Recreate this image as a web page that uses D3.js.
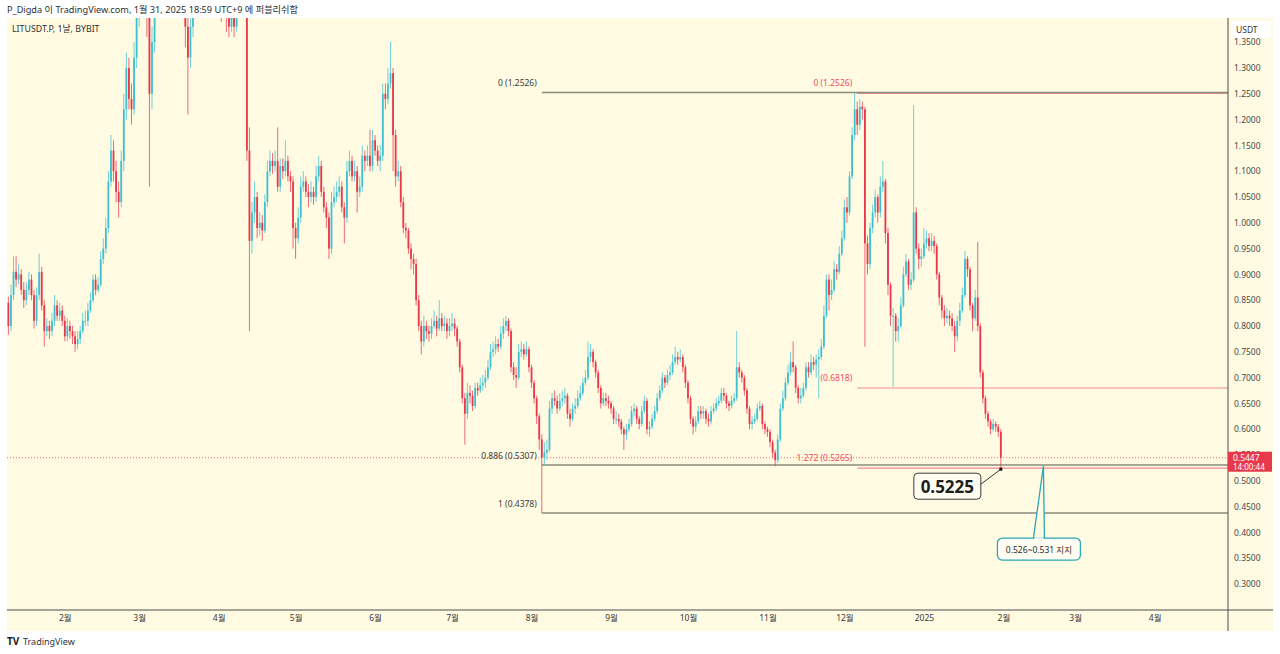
<!DOCTYPE html>
<html>
<head>
<meta charset="utf-8">
<script src="https://cdn.jsdelivr.net/npm/d3@7"></script>
<style>
  body { margin: 0; background: #ffffff; }
  text { font-family: "Noto Sans", "Noto Sans CJK KR", sans-serif; }
</style>
</head>
<body>
<div id="chart"></div>
<script>
// daily candles, LITUSDT.P (BYBIT), from 2024-01-10 to 2025-01-31
const firstDay = "2024-01-10";
const firstOpen = 0.845;
const closes = [
  0.80, 0.86, 0.905, 0.89, 0.90, 0.87, 0.85, 0.87, 0.89, 0.86,
  0.81, 0.86, 0.905, 0.84, 0.79, 0.80, 0.79, 0.81, 0.84, 0.82,
  0.83, 0.81, 0.78, 0.80, 0.79, 0.78, 0.765, 0.775, 0.79, 0.81,
  0.81, 0.83, 0.85, 0.89, 0.87, 0.88, 0.93, 0.95, 0.99, 1.08,
  1.14, 1.10, 1.06, 1.04, 1.12, 1.22, 1.30, 1.24, 1.22, 1.32,
  1.40, 1.48, 1.55, 1.50, 1.42, 1.25, 1.35, 1.45, 1.55, 1.62,
  1.70, 1.78, 1.85, 1.80, 1.72, 1.65, 1.58, 1.50, 1.45, 1.38,
  1.32, 1.38, 1.45, 1.55, 1.62, 1.60, 1.55, 1.58, 1.52, 1.48,
  1.50, 1.46, 1.44, 1.42, 1.45, 1.40, 1.38, 1.40, 1.38, 1.42,
  1.45, 1.48, 1.46, 1.14, 0.965, 1.02, 1.05, 0.99, 1.00, 0.985,
  1.04, 1.10, 1.12, 1.11, 1.12, 1.07, 1.11, 1.10, 1.12, 1.09,
  1.08, 0.99, 0.97, 1.01, 1.07, 1.08, 1.06, 1.05, 1.06, 1.05,
  1.09, 1.11, 1.06, 1.03, 1.01, 0.95, 1.04, 1.05, 1.06, 1.07,
  1.03, 1.01, 1.10, 1.12, 1.09, 1.10, 1.06, 1.07, 1.13, 1.12,
  1.13, 1.11, 1.16, 1.14, 1.12, 1.13, 1.25, 1.24, 1.27, 1.29,
  1.17, 1.09, 1.10, 1.04, 0.99, 0.985, 0.95, 0.93, 0.92, 0.85,
  0.80, 0.77, 0.80, 0.79, 0.785, 0.80, 0.81, 0.795, 0.815, 0.80,
  0.805, 0.79, 0.80, 0.805, 0.795, 0.77, 0.72, 0.66, 0.63, 0.67,
  0.665, 0.645, 0.68, 0.675, 0.685, 0.69, 0.70, 0.72, 0.75, 0.755,
  0.765, 0.76, 0.785, 0.80, 0.81, 0.79, 0.72, 0.705, 0.70, 0.75,
  0.755, 0.745, 0.755, 0.72, 0.69, 0.66, 0.625, 0.58, 0.545, 0.555,
  0.56, 0.64, 0.66, 0.655, 0.64, 0.655, 0.66, 0.665, 0.63, 0.62,
  0.64, 0.645, 0.66, 0.67, 0.69, 0.70, 0.74, 0.75, 0.73, 0.71,
  0.68, 0.65, 0.66, 0.655, 0.65, 0.64, 0.62, 0.62, 0.615, 0.60,
  0.59, 0.60, 0.61, 0.635, 0.64, 0.62, 0.61, 0.635, 0.655, 0.60,
  0.605, 0.62, 0.635, 0.66, 0.675, 0.70, 0.69, 0.705, 0.71, 0.73,
  0.74, 0.735, 0.74, 0.72, 0.69, 0.66, 0.62, 0.605, 0.615, 0.635,
  0.63, 0.635, 0.62, 0.615, 0.635, 0.64, 0.65, 0.655, 0.67, 0.665,
  0.65, 0.645, 0.655, 0.66, 0.72, 0.71, 0.70, 0.675, 0.64, 0.61,
  0.615, 0.62, 0.64, 0.645, 0.61, 0.60, 0.595, 0.575, 0.555, 0.54,
  0.58, 0.64, 0.66, 0.69, 0.71, 0.73, 0.72, 0.68, 0.66, 0.665,
  0.68, 0.72, 0.71, 0.73, 0.725, 0.735, 0.74, 0.76, 0.82, 0.89,
  0.86, 0.87, 0.91, 0.905, 0.94, 0.97, 1.03, 1.02, 1.09, 1.17,
  1.22, 1.19, 1.225, 1.22, 0.96, 0.92, 0.99, 1.02, 1.05, 1.02,
  1.07, 1.08, 0.98, 0.88, 0.82, 0.82, 0.79, 0.80, 0.84, 0.90,
  0.925, 0.88, 0.89, 1.02, 0.95, 0.93, 0.935, 0.96, 0.97, 0.955,
  0.965, 0.955, 0.90, 0.855, 0.83, 0.815, 0.82, 0.815, 0.80, 0.78,
  0.81, 0.83, 0.86, 0.93, 0.91, 0.84, 0.815, 0.855, 0.80, 0.71,
  0.66, 0.63, 0.615, 0.60, 0.61, 0.605, 0.595, 0.5447
];
const highs = [
  0.857, 0.88, 0.935, 0.935, 0.92, 0.91, 0.885, 0.885, 0.905, 0.90,
  0.87, 0.875, 0.94, 0.915, 0.85, 0.815, 0.81, 0.825, 0.86, 0.85,
  0.845, 0.84, 0.82, 0.815, 0.81, 0.80, 0.79, 0.79, 0.80, 0.825,
  0.83, 0.845, 0.865, 0.90, 0.90, 0.895, 0.945, 0.97, 1.01, 1.10,
  1.17, 1.16, 1.12, 1.08, 1.14, 1.25, 1.33, 1.32, 1.27, 1.35,
  1.44, 1.52, 1.60, 1.58, 1.52, 1.44, 1.38, 1.48, 1.58, 1.66,
  1.74, 1.82, 1.92, 1.88, 1.82, 1.75, 1.68, 1.60, 1.53, 1.47,
  1.40, 1.41, 1.48, 1.58, 1.66, 1.65, 1.62, 1.61, 1.60, 1.54,
  1.53, 1.52, 1.48, 1.46, 1.47, 1.46, 1.42, 1.42, 1.41, 1.44,
  1.48, 1.52, 1.50, 1.47, 1.185, 1.04, 1.08, 1.06, 1.02, 1.015,
  1.055, 1.12, 1.14, 1.135, 1.14, 1.185, 1.125, 1.125, 1.16, 1.13,
  1.10, 1.09, 1.00, 1.03, 1.09, 1.10, 1.09, 1.075, 1.08, 1.07,
  1.11, 1.13, 1.12, 1.07, 1.04, 1.02, 1.06, 1.07, 1.08, 1.09,
  1.08, 1.04, 1.12, 1.14, 1.13, 1.12, 1.11, 1.09, 1.15, 1.14,
  1.15, 1.18, 1.18, 1.17, 1.15, 1.15, 1.27, 1.27, 1.30, 1.35,
  1.30, 1.18, 1.12, 1.11, 1.05, 1.00, 0.99, 0.96, 0.94, 0.93,
  0.86, 0.81, 0.82, 0.81, 0.80, 0.815, 0.83, 0.82, 0.85, 0.825,
  0.82, 0.815, 0.815, 0.825, 0.815, 0.80, 0.775, 0.725, 0.67, 0.69,
  0.685, 0.675, 0.69, 0.69, 0.70, 0.705, 0.715, 0.735, 0.765, 0.77,
  0.78, 0.775, 0.80, 0.815, 0.82, 0.815, 0.795, 0.73, 0.72, 0.765,
  0.77, 0.765, 0.77, 0.76, 0.725, 0.695, 0.665, 0.63, 0.59, 0.575,
  0.58, 0.655, 0.67, 0.675, 0.665, 0.67, 0.675, 0.68, 0.67, 0.64,
  0.65, 0.66, 0.675, 0.685, 0.70, 0.715, 0.77, 0.765, 0.755, 0.735,
  0.715, 0.685, 0.67, 0.67, 0.665, 0.655, 0.645, 0.635, 0.63, 0.62,
  0.605, 0.61, 0.62, 0.645, 0.65, 0.645, 0.625, 0.645, 0.665, 0.66,
  0.615, 0.63, 0.645, 0.67, 0.685, 0.71, 0.705, 0.715, 0.725, 0.745,
  0.76, 0.75, 0.755, 0.745, 0.725, 0.695, 0.665, 0.625, 0.625, 0.645,
  0.645, 0.645, 0.64, 0.63, 0.645, 0.65, 0.66, 0.665, 0.68, 0.68,
  0.67, 0.655, 0.665, 0.67, 0.79, 0.73, 0.715, 0.705, 0.68, 0.645,
  0.625, 0.63, 0.65, 0.655, 0.65, 0.615, 0.605, 0.60, 0.58, 0.56,
  0.59, 0.65, 0.675, 0.70, 0.725, 0.75, 0.77, 0.725, 0.685, 0.68,
  0.69, 0.73, 0.73, 0.745, 0.74, 0.745, 0.755, 0.775, 0.84, 0.90,
  0.90, 0.89, 0.925, 0.92, 0.955, 0.985, 1.045, 1.05, 1.10, 1.185,
  1.2526, 1.235, 1.24, 1.235, 1.225, 0.975, 1.00, 1.035, 1.065, 1.055,
  1.09, 1.12, 1.085, 0.99, 0.885, 0.835, 0.825, 0.815, 0.855, 0.915,
  0.94, 0.93, 0.905, 1.228, 1.03, 0.96, 0.95, 0.99, 0.985, 0.98,
  0.98, 0.975, 0.96, 0.905, 0.86, 0.84, 0.835, 0.83, 0.825, 0.81,
  0.82, 0.845, 0.875, 0.945, 0.935, 0.915, 0.845, 0.87, 0.963, 0.805,
  0.715, 0.665, 0.635, 0.62, 0.62, 0.615, 0.61, 0.60
];
const lows = [
  0.783, 0.79, 0.85, 0.875, 0.88, 0.86, 0.835, 0.84, 0.86, 0.85,
  0.795, 0.80, 0.85, 0.83, 0.76, 0.78, 0.775, 0.78, 0.80, 0.81,
  0.81, 0.80, 0.77, 0.77, 0.775, 0.765, 0.75, 0.755, 0.765, 0.785,
  0.80, 0.80, 0.825, 0.845, 0.86, 0.865, 0.875, 0.92, 0.94, 0.98,
  1.07, 1.08, 1.04, 1.01, 1.03, 1.10, 1.20, 1.22, 1.19, 1.21,
  1.30, 1.38, 1.46, 1.45, 1.36, 1.07, 1.22, 1.33, 1.43, 1.52,
  1.60, 1.68, 1.75, 1.76, 1.68, 1.62, 1.55, 1.47, 1.42, 1.34,
  1.21, 1.30, 1.36, 1.43, 1.53, 1.56, 1.52, 1.53, 1.49, 1.45,
  1.46, 1.43, 1.41, 1.39, 1.40, 1.37, 1.36, 1.37, 1.36, 1.37,
  1.41, 1.44, 1.43, 1.12, 0.79, 0.94, 1.00, 0.97, 0.975, 0.965,
  0.98, 1.03, 1.09, 1.095, 1.10, 1.06, 1.06, 1.085, 1.09, 1.08,
  1.06, 0.95, 0.93, 0.96, 1.00, 1.06, 1.05, 1.03, 1.04, 1.035,
  1.04, 1.08, 1.05, 1.02, 0.99, 0.93, 0.94, 1.03, 1.04, 1.05,
  1.02, 0.96, 1.00, 1.09, 1.08, 1.08, 1.02, 1.05, 1.06, 1.10,
  1.11, 1.10, 1.10, 1.13, 1.11, 1.10, 1.12, 1.22, 1.23, 1.26,
  1.10, 1.07, 1.08, 1.03, 0.98, 0.97, 0.94, 0.91, 0.90, 0.84,
  0.79, 0.745, 0.76, 0.775, 0.77, 0.775, 0.795, 0.78, 0.79, 0.79,
  0.79, 0.775, 0.78, 0.79, 0.78, 0.76, 0.71, 0.65, 0.57, 0.62,
  0.65, 0.635, 0.64, 0.665, 0.67, 0.675, 0.68, 0.695, 0.715, 0.74,
  0.745, 0.75, 0.755, 0.775, 0.79, 0.78, 0.71, 0.695, 0.68, 0.695,
  0.74, 0.735, 0.74, 0.71, 0.68, 0.65, 0.61, 0.56, 0.4378, 0.53,
  0.54, 0.555, 0.63, 0.645, 0.63, 0.635, 0.645, 0.65, 0.62, 0.605,
  0.615, 0.63, 0.64, 0.655, 0.665, 0.685, 0.695, 0.73, 0.72, 0.70,
  0.67, 0.64, 0.645, 0.645, 0.64, 0.63, 0.61, 0.61, 0.605, 0.59,
  0.56, 0.58, 0.595, 0.605, 0.625, 0.61, 0.60, 0.605, 0.63, 0.59,
  0.585, 0.60, 0.615, 0.63, 0.655, 0.67, 0.68, 0.685, 0.695, 0.705,
  0.725, 0.725, 0.73, 0.71, 0.68, 0.65, 0.61, 0.59, 0.595, 0.61,
  0.62, 0.62, 0.61, 0.605, 0.61, 0.63, 0.635, 0.645, 0.65, 0.655,
  0.64, 0.635, 0.64, 0.65, 0.655, 0.70, 0.69, 0.665, 0.63, 0.60,
  0.60, 0.61, 0.615, 0.635, 0.60, 0.59, 0.585, 0.565, 0.545, 0.528,
  0.535, 0.575, 0.635, 0.655, 0.685, 0.705, 0.71, 0.67, 0.65, 0.65,
  0.66, 0.675, 0.70, 0.705, 0.715, 0.70, 0.66, 0.735, 0.755, 0.815,
  0.83, 0.85, 0.865, 0.89, 0.90, 0.935, 0.965, 1.00, 1.015, 1.085,
  1.16, 1.17, 1.18, 1.20, 0.76, 0.90, 0.91, 0.98, 1.01, 1.00,
  1.01, 1.06, 0.96, 0.86, 0.80, 0.6818, 0.77, 0.77, 0.795, 0.835,
  0.895, 0.87, 0.87, 0.885, 0.94, 0.91, 0.915, 0.93, 0.95, 0.945,
  0.945, 0.94, 0.89, 0.84, 0.815, 0.80, 0.805, 0.80, 0.79, 0.75,
  0.77, 0.80, 0.825, 0.855, 0.895, 0.83, 0.79, 0.81, 0.79, 0.70,
  0.65, 0.62, 0.605, 0.59, 0.595, 0.595, 0.585, 0.5225
];

const monthTicks = ["2024-02-01", "2024-03-01", "2024-04-01", "2024-05-01", "2024-06-01",
  "2024-07-01", "2024-08-01", "2024-09-01", "2024-10-01", "2024-11-01", "2024-12-01",
  "2025-01-01", "2025-02-01", "2025-03-01", "2025-04-01"];
const monthLabels = ["2월", "3월", "4월", "5월", "6월", "7월", "8월", "9월", "10월", "11월", "12월",
  "2025", "2월", "3월", "4월"];
const priceTicks = [0.30, 0.35, 0.40, 0.45, 0.50, 0.55, 0.60, 0.65, 0.70, 0.75, 0.80, 0.85,
  0.90, 0.95, 1.00, 1.05, 1.10, 1.15, 1.20, 1.25, 1.30, 1.35];

// fib retracement (gray) anchored at the 8월 5일 low
const fibStart = "2024-08-05";
const fibValues = [1.2526, 0.5307, 0.4378];
const fibLabels = ["0 (1.2526)", "0.886 (0.5307)", "1 (0.4378)"];
// trend based extension (red) drawn from the 12월 high
const extStart = "2024-12-06";
const extValues = [1.2526, 0.6818, 0.5265];
const extLabels = ["0 (1.2526)", "(0.6818)", "1.272 (0.5265)"];

const lastPrice = 0.5447;
const countdown = "14:00:44";
const lowNote = { date: "2025-01-31", value: 0.5225, text: "0.5225" };
const zoneNote = { date: "2025-02-17", value: 0.5285, text: "0.526~0.531 지지" };

const W = 1280, H = 654;
const plot = { left: 7, right: 1228, top: 18, bottom: 610 };
const bg = "#fffbe3", upColor = "#3fc0d1", downColor = "#e8394c";

const svg = d3.select("#chart").append("svg")
  .attr("width", W).attr("height", H);

svg.append("rect").attr("x", 7).attr("y", 18).attr("width", 1266).attr("height", 613)
  .attr("fill", bg);

const x = d3.scaleUtc()
  .domain([Date.UTC(2024, 0, 9, 11), Date.UTC(2025, 3, 29, 14)])
  .range([plot.left, plot.right]);
const y = d3.scaleLinear().domain([0.3, 1.3]).range([584, 68]);

const day0 = new Date(firstDay + "T00:00:00Z");
const candles = closes.map((c, i) => {
  const o = i ? closes[i - 1] : firstOpen;
  return {
    date: d3.utcDay.offset(day0, i),
    o: o, c: c,
    h: Math.max(highs[i], o, c),
    l: Math.min(lows[i], o, c)
  };
});

svg.append("clipPath").attr("id", "clip").append("rect")
  .attr("x", plot.left).attr("y", plot.top)
  .attr("width", plot.right - plot.left).attr("height", plot.bottom - plot.top);
const g = svg.append("g").attr("clip-path", "url(#clip)");

// last price dotted line
g.append("line")
  .attr("x1", plot.left).attr("x2", plot.right)
  .attr("y1", y(lastPrice)).attr("y2", y(lastPrice))
  .attr("stroke", "#ef6b78").attr("stroke-width", 1).attr("stroke-dasharray", "1,2");

// red extension lines
extValues.forEach(v => {
  g.append("line")
    .attr("x1", x(new Date(extStart))).attr("x2", plot.right)
    .attr("y1", y(v) + 1).attr("y2", y(v) + 1)
    .attr("stroke", "#f08a94").attr("stroke-width", 1.2);
});
// gray fib lines
fibValues.forEach(v => {
  g.append("line")
    .attr("x1", x(new Date(fibStart))).attr("x2", plot.right)
    .attr("y1", y(v)).attr("y2", y(v))
    .attr("stroke", "#8b8b7c").attr("stroke-width", 1.5);
});

// candles
const cg = g.append("g");
cg.selectAll("line.wick").data(candles).join("line")
  .attr("class", "wick")
  .attr("x1", d => x(d.date)).attr("x2", d => x(d.date))
  .attr("y1", d => y(d.h)).attr("y2", d => y(d.l))
  .attr("stroke", d => d.c >= d.o ? upColor : downColor)
  .attr("stroke-opacity", 0.75)
  .attr("stroke-width", 1);
cg.selectAll("rect.body").data(candles).join("rect")
  .attr("class", "body")
  .attr("x", d => x(d.date) - 0.9).attr("width", 1.8)
  .attr("y", d => y(Math.max(d.o, d.c)))
  .attr("height", d => Math.max(1, Math.abs(y(d.o) - y(d.c))))
  .attr("fill", d => d.c >= d.o ? upColor : downColor);

// fib labels
fibValues.forEach((v, i) => {
  svg.append("text")
    .attr("x", x(new Date(fibStart)) - 5).attr("y", y(v) - 6)
    .attr("text-anchor", "end").attr("font-size", 8.5).attr("fill", "#3c3c3c")
    .text(fibLabels[i]);
});
extValues.forEach((v, i) => {
  svg.append("text")
    .attr("x", x(new Date(extStart)) - 5).attr("y", y(v) - 6)
    .attr("text-anchor", "end").attr("font-size", 8.5).attr("fill", "#ee4d5d")
    .text(extLabels[i]);
});

// axes
const yAxis = d3.axisRight(y).tickValues(priceTicks)
  .tickFormat(d3.format(".4f")).tickSize(0).tickPadding(6);
const ya = svg.append("g").attr("transform", "translate(" + plot.right + ",0)").call(yAxis);
ya.select(".domain").remove();
ya.selectAll("text").attr("font-size", 8.5).attr("fill", "#4a4a4a")
  .style("font-family", "'Noto Sans', sans-serif");

const xAxis = d3.axisBottom(x).tickValues(monthTicks.map(d => new Date(d + "T00:00:00Z")))
  .tickFormat((d, i) => monthLabels[i]).tickSize(0).tickPadding(5);
const xa = svg.append("g").attr("transform", "translate(0," + plot.bottom + ")").call(xAxis);
xa.select(".domain").remove();
xa.selectAll("text").attr("font-size", 8.5).attr("fill", "#3a3a3a")
  .style("font-family", "'Noto Sans', 'Noto Sans CJK KR', sans-serif");

// axis borders
svg.append("line").attr("x1", 7).attr("x2", 1273).attr("y1", plot.bottom).attr("y2", plot.bottom)
  .attr("stroke", "#4d4d4d").attr("stroke-width", 1);
svg.append("line").attr("x1", plot.right).attr("x2", plot.right).attr("y1", 18).attr("y2", 631)
  .attr("stroke", "#4d4d4d").attr("stroke-width", 1);

// USDT box
svg.append("rect").attr("x", 1231).attr("y", 21).attr("width", 40).attr("height", 17)
  .attr("fill", "#ffffff");
svg.append("text").attr("x", 1236).attr("y", 33).attr("font-size", 8.5).attr("fill", "#333")
  .text("USDT");

// last price tag
const py = y(lastPrice);
svg.append("rect").attr("x", plot.right).attr("y", py - 6).attr("width", 44).attr("height", 20)
  .attr("fill", "#e8394c");
svg.append("text").attr("x", plot.right + 5).attr("y", py + 3).attr("font-size", 8.5)
  .attr("fill", "#fff").text(d3.format(".4f")(lastPrice));
svg.append("text").attr("x", plot.right + 5).attr("y", py + 12).attr("font-size", 8)
  .attr("fill", "#fff").text(countdown);

// 0.5225 callout
const lx = x(new Date(lowNote.date + "T00:00:00Z")), ly = y(lowNote.value);
svg.append("line").attr("x1", lx - 20).attr("y1", ly + 15).attr("x2", lx).attr("y2", ly)
  .attr("stroke", "#333").attr("stroke-width", 1);
svg.append("rect").attr("x", lx - 87).attr("y", ly + 4).attr("width", 67).attr("height", 26)
  .attr("rx", 4).attr("fill", "#fffdf2").attr("stroke", "#3a3a3a").attr("stroke-width", 1);
svg.append("text").attr("x", lx - 53.5).attr("y", ly + 23.5).attr("text-anchor", "middle")
  .attr("font-size", 17).attr("font-weight", "bold").attr("fill", "#1e1e1e").text(lowNote.text);
svg.append("rect").attr("x", lx - 1.5).attr("y", ly - 1.5).attr("width", 3).attr("height", 3)
  .attr("fill", "#111");

// support callout
const zx = x(new Date(zoneNote.date + "T00:00:00Z")), zy = y(zoneNote.value);
svg.append("path")
  .attr("d", "M" + (zx - 11) + "," + (zy + 72) + "L" + (zx - 1) + "," + zy +
    "L" + zx + "," + (zy + 72) + "Z")
  .attr("fill", bg).attr("stroke", "#2aa7b8").attr("stroke-width", 1.3);
svg.append("rect").attr("x", zx - 47).attr("y", zy + 72).attr("width", 83).attr("height", 22)
  .attr("rx", 5).attr("fill", "#fffdf2").attr("stroke", "#2aa7b8").attr("stroke-width", 1.3);
svg.append("line").attr("x1", zx - 10).attr("x2", zx - 1).attr("y1", zy + 72).attr("y2", zy + 72)
  .attr("stroke", "#fffdf2").attr("stroke-width", 1.6);
svg.append("text").attr("x", zx - 5.5).attr("y", zy + 86.5).attr("text-anchor", "middle")
  .attr("font-size", 8.5).attr("fill", "#2b2b2b").text(zoneNote.text);

// titles
svg.append("text").attr("x", 7).attr("y", 13).attr("font-size", 9.2).attr("fill", "#2f2f2f")
  .text("P_Digda 이 TradingView.com, 1월 31, 2025 18:59 UTC+9 에 퍼블리쉬함");
svg.append("text").attr("x", 12).attr("y", 32).attr("font-size", 8.8).attr("fill", "#2f2f2f")
  .text("LITUSDT.P, 1날, BYBIT");
svg.append("text").attr("x", 7).attr("y", 645).attr("font-size", 10).attr("font-weight", "bold")
  .attr("fill", "#222").text("TV");
svg.append("text").attr("x", 23).attr("y", 645).attr("font-size", 9).attr("fill", "#333")
  .text("TradingView");
</script>
</body>
</html>
